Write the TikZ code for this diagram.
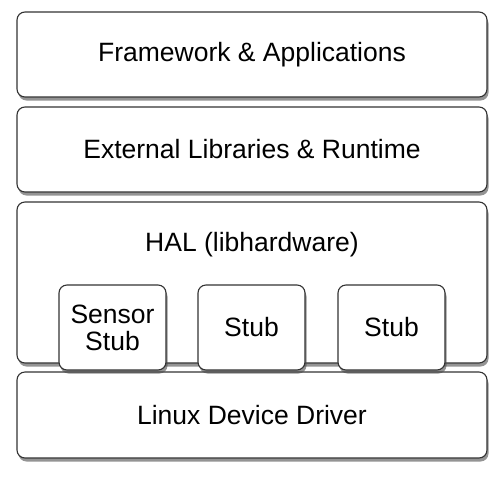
\documentclass[tikz,border=0pt]{standalone}
\usepackage{fontspec}
\setmainfont{Liberation Sans}
\usetikzlibrary{shadows}

\begin{document}
\begin{tikzpicture}[
            x=1pt, y=-1pt,
            every node/.style={align=center, font=\fontsize{26.5}{27}\selectfont},
            layer/.style={draw=black!80, line width=1.1pt, rounded corners=8pt, fill=white,
                drop shadow={shadow xshift=1.5pt, shadow yshift=-3.5pt, fill=black!70, opacity=0.6},
                minimum width=470pt, minimum height=85pt},
            stubbox/.style={layer, minimum width=107pt, minimum height=85pt}
            ]
            \useasboundingbox (0,0) rectangle (503,480);
            \node[layer] (apps) at (252,54.5) {Framework \& Applications};
            \node[layer] (libs) at (252,149.5) {External Libraries \& Runtime};
            \node[layer, minimum height=161pt,
                label={[anchor=center, yshift=-43pt]north:HAL (libhardware)}] (hal) at (252,282.5) {};
            \node[layer, minimum height=86pt] (driver) at (252,415) {Linux Device Driver};
            \node[stubbox] (sensor) at (112.5,327.5) {Sensor\\Stub};
            \node[stubbox] (stuba) at (251.5,327.5) {Stub};
            \node[stubbox] (stubb) at (391.5,327.5) {Stub};
        \end{tikzpicture}
\end{document}
